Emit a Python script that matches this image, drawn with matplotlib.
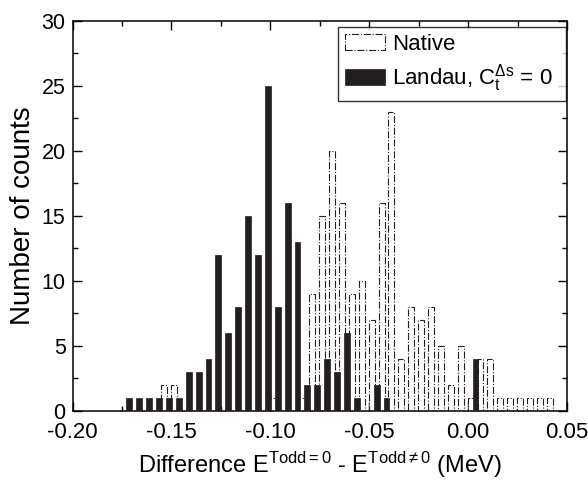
import numpy as np
import matplotlib
matplotlib.use('Agg')
import matplotlib.pyplot as plt
from matplotlib.ticker import MultipleLocator, FuncFormatter

plt.rcParams['font.family'] = ['Liberation Sans', 'DejaVu Sans']
plt.rcParams['mathtext.fontset'] = 'custom'
plt.rcParams['mathtext.rm'] = 'Liberation Sans'
plt.rcParams['mathtext.it'] = 'Liberation Sans'
plt.rcParams['mathtext.bf'] = 'Liberation Sans:bold'
plt.rcParams['axes.unicode_minus'] = False

# Landau histogram (bin centres, counts)
landau_x = [-0.17125, -0.16625, -0.16125, -0.15625, -0.15125, -0.14625,
            -0.14125, -0.13625, -0.13125, -0.12625, -0.12125, -0.11625,
            -0.11125, -0.10625, -0.10125, -0.09625, -0.09125, -0.08625,
            -0.08125, -0.07625, -0.07125, -0.06625, -0.06125, -0.05625,
            -0.04625, -0.04125, 0.00375]
landau_y = [1, 1, 1, 1, 1, 1,
            3, 3, 4, 12, 6, 8,
            15, 12, 25, 8, 16, 13,
            2, 2, 4, 3, 6, 1,
            2, 1, 4]

# Native histogram
native_x = [-0.15375, -0.14875, -0.09875, -0.08375, -0.07875, -0.07375,
            -0.06875, -0.06375, -0.05875, -0.05375, -0.04875, -0.04375,
            -0.03875, -0.03375, -0.02875, -0.02375, -0.01875, -0.01375,
            -0.00875, -0.00375, 0.00125, 0.00625, 0.01125, 0.01625,
            0.02125, 0.02625, 0.03125, 0.03625, 0.04125]
native_y = [2, 2, 1, 1, 9, 15,
            20, 16, 9, 10, 7, 16,
            23, 4, 8, 7, 8, 5,
            2, 5, 1, 4, 4, 1,
            1, 1, 1, 1, 1]

fig = plt.figure(figsize=(5.88, 4.84), dpi=100)
ax = fig.add_axes([0.1233, 0.1508, 0.841, 0.8064])

bw = 0.003
ax.bar(native_x, native_y, width=bw, color='white', edgecolor='#231f20',
       linestyle='-.', linewidth=0.8, label='Native', zorder=2)
ax.bar(landau_x, landau_y, width=bw, color='#231f20', edgecolor='#231f20',
       linewidth=0.5, label=r'Landau, C$_\mathrm{t}^{\Delta \mathrm{s}}$ = 0  ', zorder=3)

ax.set_xlim(-0.20, 0.05)
ax.set_ylim(0, 30)
ax.xaxis.set_major_locator(MultipleLocator(0.05))
ax.xaxis.set_minor_locator(MultipleLocator(0.025))
ax.yaxis.set_major_locator(MultipleLocator(5))
ax.yaxis.set_minor_locator(MultipleLocator(2.5))
ax.xaxis.set_major_formatter(FuncFormatter(lambda v, p: '%.2f' % v if abs(v) > 1e-9 else '0.00'))
ax.tick_params(which='both', direction='in', top=True, right=True)
ax.tick_params(which='major', length=6.5, width=1)
ax.tick_params(which='minor', length=3.5, width=1)
ax.tick_params(axis='x', which='major', pad=8, labelsize=16)
ax.tick_params(axis='y', which='major', pad=5, labelsize=15.5)
for s in ax.spines.values():
    s.set_linewidth(1.1)

ax.set_xlabel(r'Difference E$^{\mathrm{Todd=0}}$ - E$^{\mathrm{Todd}\neq\mathrm{0}}$ (MeV)', fontsize=17, labelpad=5)
ax.set_ylabel('Number of counts', fontsize=20, labelpad=4)

leg = ax.legend(loc='upper right', bbox_to_anchor=(0.998, 0.984), fontsize=16,
                frameon=True, fancybox=False, edgecolor='black',
                handlelength=1.8, handleheight=0.7, borderaxespad=0,
                labelspacing=0.35, handletextpad=0.3, borderpad=0.3)
leg.get_frame().set_linewidth(1.0)

fig.savefig('out.png', dpi=100)
